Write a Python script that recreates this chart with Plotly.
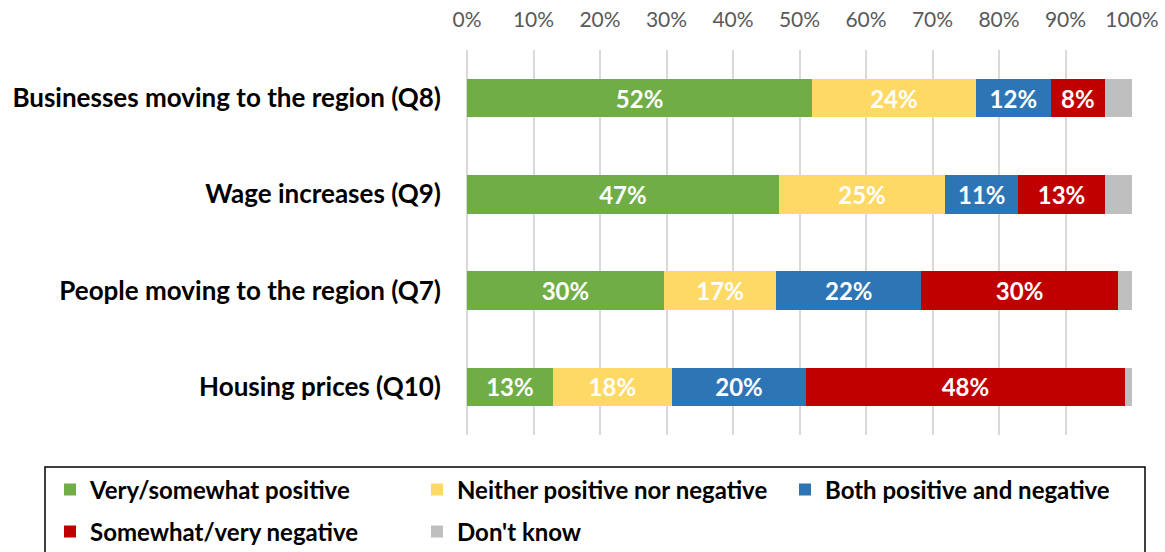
import plotly.graph_objects as go

# rows, top to bottom
categories = [
    "Businesses moving to the region (Q8)",
    "Wage increases (Q9)",
    "People moving to the region (Q7)",
    "Housing prices (Q10)",
]

series_names = [
    "Very/somewhat positive",
    "Neither positive nor negative",
    "Both positive and negative",
    "Somewhat/very negative",
    "Don't know",
]

# shares in percent
positive = [51.9, 46.9, 29.6, 12.9]
neither = [24.6, 25.0, 16.9, 17.9]
both = [11.3, 11.0, 21.8, 20.2]
negative = [8.1, 13.0, 29.6, 47.9]
dont_know = [4.1, 4.1, 2.1, 1.1]

# printed labels (rounded in the source)
positive_lbl = ["52%", "47%", "30%", "13%"]
neither_lbl = ["24%", "25%", "17%", "18%"]
both_lbl = ["12%", "11%", "22%", "20%"]
negative_lbl = ["8%", "13%", "30%", "48%"]
dont_know_lbl = ["", "", "", ""]

colors = ["#70AD47", "#FFD966", "#2E75B6", "#C00000", "#BFBFBF"]

FONT = "Lato, 'Open Sans', sans-serif"
W, H = 1165, 552

# each legend entry gets its own box so the two rows line up like the source
legend_ids = ["legend", "legend2", "legend3", "legend4", "legend5"]
legend_pos = [(50, 490), (417, 490), (785, 490), (50, 532), (417, 532)]

fig = go.Figure()
values = [positive, neither, both, negative, dont_know]
labels = [positive_lbl, neither_lbl, both_lbl, negative_lbl, dont_know_lbl]
for name, vals, lbls, col, lid in zip(series_names, values, labels, colors, legend_ids):
    fig.add_trace(go.Bar(
        y=categories, x=vals, name=name, orientation="h", legend=lid,
        marker=dict(color=col, line=dict(width=0)),
        text=lbls, textposition="inside", insidetextanchor="middle",
        textangle=0,
        textfont=dict(color="white", size=24, family=FONT, weight="bold"),
        hoverinfo="skip",
    ))

legend_style = dict(
    orientation="h", xref="container", yref="container",
    xanchor="left", yanchor="middle", itemwidth=30,
    font=dict(size=24, color="black", family=FONT, weight="bold"),
    bgcolor="rgba(0,0,0,0)",
)
legends = {}
for lid, (px, py) in zip(legend_ids, legend_pos):
    legends[lid] = dict(legend_style, x=px / W, y=1 - py / H)

fig.update_layout(
    barmode="stack",
    bargap=0.6,
    width=W, height=H,
    margin=dict(l=467, r=33, t=50, b=117, autoexpand=False),
    paper_bgcolor="white", plot_bgcolor="white",
    font=dict(family=FONT),
    uniformtext=dict(minsize=22, mode="show"),
    showlegend=True,
    xaxis=dict(
        side="top", range=[0, 100], dtick=10,
        ticksuffix="%", showgrid=True, gridcolor="#D9D9D9", gridwidth=2,
        zeroline=True, zerolinecolor="#D9D9D9", zerolinewidth=2,
        showline=False, ticks="", ticklabelstandoff=18,
        tickfont=dict(size=21, color="#595959", family=FONT),
    ),
    yaxis=dict(
        autorange="reversed", showgrid=False, ticks="",
        ticklabelstandoff=25,
        tickfont=dict(size=26, color="black", family=FONT, weight="bold"),
    ),
    **legends,
)

# legend frame (bottom edge runs off the page in the source)
fig.add_shape(type="rect", xref="paper", yref="paper",
              x0=(45 - 467) / 665, x1=(1145 - 467) / 665,
              y0=-(560 - 435) / 385, y1=-(467 - 435) / 385,
              line=dict(color="black", width=1.5), layer="above")

fig.write_html("out.html", config={"displayModeBar": False},
               post_script="document.body.style.margin='0px';")
